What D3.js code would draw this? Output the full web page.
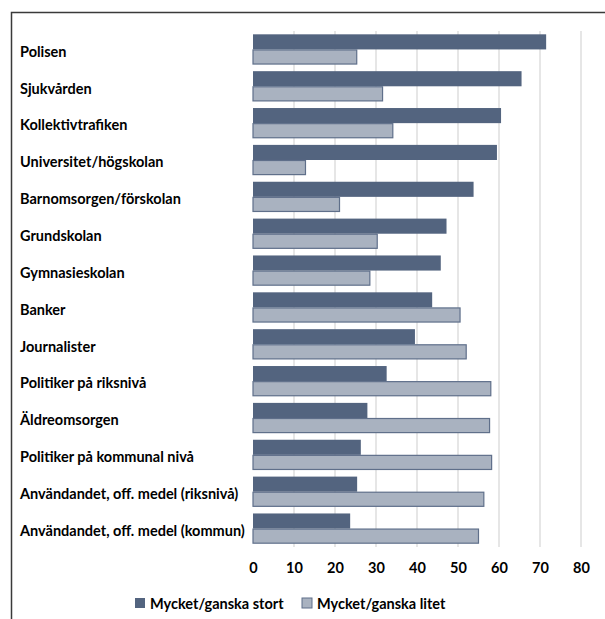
<!DOCTYPE html>
<html>
<head>
<meta charset="utf-8">
<script src="https://cdn.jsdelivr.net/npm/d3@7"></script>
<style>
  body { margin: 0; background: #fff; }
  svg { display: block; }
  text { font-family: Lato, "Open Sans", sans-serif; font-weight: bold; fill: #000; }
</style>
</head>
<body>
<div id="chart"></div>
<script>
// Data
const categories = [
    "Polisen", "Sjukvården", "Kollektivtrafiken", "Universitet/högskolan",
    "Barnomsorgen/förskolan", "Grundskolan", "Gymnasieskolan", "Banker",
    "Journalister", "Politiker på riksnivå", "Äldreomsorgen",
    "Politiker på kommunal nivå", "Användandet, off. medel (riksnivå)",
    "Användandet, off. medel (kommun)"
];
const stort = [71.5, 65.5, 60.5, 59.5, 53.8, 47.2, 45.8, 43.7, 39.5, 32.6, 27.9, 26.3, 25.4, 23.7];
const litet = [25.3, 31.6, 34.1, 12.8, 21.1, 30.3, 28.5, 50.5, 52.0, 58.0, 57.7, 58.2, 56.3, 55.0];
const seriesNames = ["Mycket/ganska stort", "Mycket/ganska litet"];
const xTicks = [0, 10, 20, 30, 40, 50, 60, 70, 80];

const width = 605, height = 619;
const colors = ["#53647f", "#a9b2c0"];
const fontSize = 14.5;

const svg = d3.select("#chart").append("svg")
    .attr("width", width)
    .attr("height", height);

// frame
svg.append("path")
    .attr("d", `M11.5,${height} L11.5,12.5 L${width},12.5`)
    .attr("fill", "none")
    .attr("stroke", "#3a3a3a")
    .attr("stroke-width", 1.5);

const x = d3.scaleLinear().domain([0, 80]).range([253, 581]);
const y = d3.scaleBand().domain(categories).range([31, 547]).paddingInner(0.18).paddingOuter(0.09);
const sub = d3.scaleBand().domain([0, 1]).range([0, y.bandwidth()]);

// gridlines
svg.append("g").selectAll("line")
    .data(xTicks.filter(d => d > 0))
    .enter().append("line")
    .attr("x1", d => x(d)).attr("x2", d => x(d))
    .attr("y1", 31).attr("y2", 547)
    .attr("stroke", "#d9d9d9")
    .attr("stroke-width", 1.3);

// bars
const rows = categories.map((c, i) => ({ cat: c, vals: [stort[i], litet[i]] }));
const grp = svg.append("g").selectAll("g")
    .data(rows)
    .enter().append("g")
    .attr("transform", d => `translate(0,${y(d.cat)})`);

grp.selectAll("rect")
    .data(d => d.vals.map((v, k) => ({ v, k })))
    .enter().append("rect")
    .attr("x", x(0))
    .attr("y", d => sub(d.k) + (d.k === 1 ? 0.5 : 0))
    .attr("width", d => x(d.v) - x(0))
    .attr("height", d => sub.bandwidth() - (d.k === 1 ? 1 : 0))
    .attr("fill", d => colors[d.k])
    .attr("stroke", d => d.k === 1 ? "#5f6f8a" : "none")
    .attr("stroke-width", 1.2);

// category labels
svg.append("g").selectAll("text")
    .data(categories)
    .enter().append("text")
    .attr("x", 20)
    .attr("y", d => y(d) + y.bandwidth() / 2)
    .attr("dy", "0.5em")
    .attr("font-size", fontSize)
    .text(d => d);

// x axis labels
const xAxis = d3.axisBottom(x).tickValues(xTicks).tickSize(0).tickPadding(0);
const ax = svg.append("g")
    .attr("transform", "translate(0,563)")
    .call(xAxis);
ax.select(".domain").remove();
ax.selectAll("text")
    .attr("font-size", fontSize)
    .attr("font-family", "Lato, 'Open Sans', sans-serif")
    .attr("font-weight", "bold")
    .attr("fill", "#000");

// legend
const legendX = [135, 302];
const lg = svg.append("g").selectAll("g")
    .data(seriesNames)
    .enter().append("g")
    .attr("transform", (d, i) => `translate(${legendX[i]},598)`);
lg.append("rect")
    .attr("width", 10).attr("height", 10)
    .attr("fill", (d, i) => colors[i])
    .attr("stroke", (d, i) => i === 1 ? "#5f6f8a" : "none");
lg.append("text")
    .attr("x", 15).attr("y", 5)
    .attr("dy", "0.38em")
    .attr("font-size", fontSize)
    .text(d => d);
</script>
</body>
</html>
